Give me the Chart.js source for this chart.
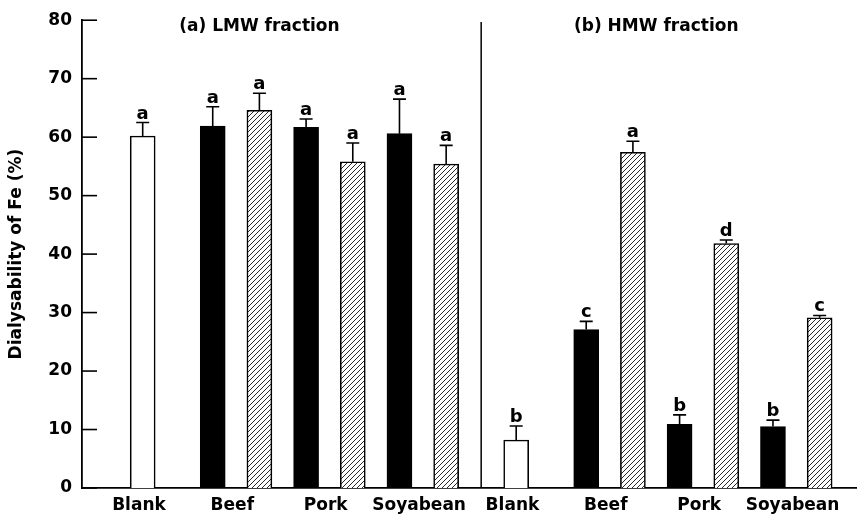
<!DOCTYPE html>
<html>
<head>
<meta charset="utf-8">
<script src="https://cdn.jsdelivr.net/npm/chart.js@4.4.1/dist/chart.umd.min.js"></script>
<style>
  html, body { margin: 0; padding: 0; background: #fff; }
  #wrap { width: 857px; height: 522px; }
</style>
</head>
<body>
<div id="wrap"><canvas id="c" width="857" height="522"></canvas></div>
<script>
// ---- data ----
const fractionTitles = ['(a) LMW fraction', '(b) HMW fraction'];
const foods = ['Blank', 'Beef', 'Pork', 'Soyabean'];
// bar order within each fraction: Blank, Beef(black, hatched), Pork(black, hatched), Soyabean(black, hatched)
const barKinds = ['blank', 'black', 'hatched', 'black', 'hatched', 'black', 'hatched'];
const lmwValues = [60.2, 61.9, 64.6, 61.7, 55.8, 60.6, 55.4];
const lmwErrors = [2.3, 3.3, 2.9, 1.4, 3.2, 5.9, 3.2];
const lmwLetters = ['a', 'a', 'a', 'a', 'a', 'a', 'a'];
const hmwValues = [8.2, 27.1, 57.4, 10.9, 41.8, 10.5, 29.1];
const hmwErrors = [2.4, 1.4, 1.9, 1.6, 0.6, 1.1, 0.4];
const hmwLetters = ['b', 'c', 'a', 'b', 'd', 'b', 'c'];
const yTicks = [0, 10, 20, 30, 40, 50, 60, 70, 80];
const yTitle = 'Dialysability of Fe (%)';

// ---- layout on a slot axis (structure, not data) ----
const slotInFraction = [0, 1.5, 2.5, 3.5, 4.5, 5.5, 6.5];
const foodSlot = [0, 2, 4, 6];
const fractionOffset = [0, 8];
const titleSlot = [2.5, 11.0];

const FONT = "'DejaVu Sans', sans-serif";

// hatch pattern
function makeHatch() {
  const s = 5;
  const c = document.createElement('canvas');
  c.width = s; c.height = s;
  const g = c.getContext('2d');
  g.fillStyle = '#fff';
  g.fillRect(0, 0, s, s);
  g.strokeStyle = '#111';
  g.lineWidth = 0.9;
  g.beginPath();
  g.moveTo(-1, s + 1); g.lineTo(s + 1, -1);
  g.moveTo(-1, 1); g.lineTo(1, -1);
  g.moveTo(s - 1, s + 1); g.lineTo(s + 1, s - 1);
  g.stroke();
  return g.createPattern(c, 'repeat');
}
const hatch = makeHatch();

const points = [], colors = [], errs = [], letters = [];
[lmwValues, hmwValues].forEach((vals, f) => {
  const e = f === 0 ? lmwErrors : hmwErrors;
  const l = f === 0 ? lmwLetters : hmwLetters;
  vals.forEach((v, i) => {
    points.push({ x: fractionOffset[f] + slotInFraction[i], y: v });
    colors.push(barKinds[i] === 'black' ? '#000' : barKinds[i] === 'hatched' ? hatch : '#fff');
    errs.push(e[i]);
    letters.push(l[i]);
  });
});

const labelTicks = [];
fractionOffset.forEach(off => foodSlot.forEach((s, i) => labelTicks.push({ value: off + s - 0.08, label: foods[i] })));

const decorations = {
  id: 'decorations',
  afterDatasetsDraw(chart) {
    const ctx = chart.ctx;
    const x = chart.scales.x, y = chart.scales.y;
    const meta = chart.getDatasetMeta(0);
    ctx.save();
    ctx.strokeStyle = '#000';
    ctx.fillStyle = '#000';
    // error bars + letters
    meta.data.forEach((bar, i) => {
      const px = bar.x;
      const top = y.getPixelForValue(points[i].y);
      const capY = y.getPixelForValue(points[i].y + errs[i]);
      ctx.lineWidth = 1.6;
      ctx.beginPath();
      ctx.moveTo(px, top);
      ctx.lineTo(px, capY);
      ctx.moveTo(px - 6.5, capY);
      ctx.lineTo(px + 6.5, capY);
      ctx.stroke();
      ctx.font = 'bold 18px ' + FONT;
      ctx.textAlign = 'center';
      ctx.textBaseline = 'alphabetic';
      ctx.fillText(letters[i], px, capY - 4);
    });
    // inward y ticks
    ctx.lineWidth = 1.6;
    yTicks.forEach(t => {
      const py = y.getPixelForValue(t);
      ctx.beginPath();
      ctx.moveTo(x.left, py);
      ctx.lineTo(x.left + 15, py);
      ctx.stroke();
    });
    // divider between fractions
    const dx = x.getPixelForValue((fractionOffset[0] + slotInFraction[6] + fractionOffset[1]) / 2);
    ctx.lineWidth = 1.5;
    ctx.beginPath();
    ctx.moveTo(dx, y.getPixelForValue(79.7));
    ctx.lineTo(dx, y.bottom);
    ctx.stroke();
    // fraction titles
    ctx.font = 'bold 17px ' + FONT;
    ctx.textAlign = 'center';
    ctx.textBaseline = 'alphabetic';
    fractionTitles.forEach((t, f) => {
      ctx.fillText(t, x.getPixelForValue(titleSlot[f]), 30.5);
    });
    ctx.restore();
  }
};

new Chart(document.getElementById('c'), {
  type: 'bar',
  data: {
    datasets: [{
      data: points,
      backgroundColor: colors,
      borderColor: '#000',
      borderWidth: 1.6,
      borderSkipped: 'bottom',
      barThickness: 25
    }]
  },
  options: {
    responsive: false,
    animation: false,
    devicePixelRatio: 1,
    layout: { padding: { top: 14, right: 0, left: 0, bottom: 0 } },
    plugins: { legend: { display: false }, tooltip: { enabled: false }, title: { display: false } },
    scales: {
      x: {
        type: 'linear',
        offset: false,
        min: -1.3,
        max: 15.3,
        grid: { display: false, drawTicks: false, offset: false },
        border: { display: true, color: '#000', width: 1.8 },
        afterBuildTicks(scale) { scale.ticks = labelTicks.map(t => ({ value: t.value })); },
        afterFit(scale) { scale.height = 34; },
        ticks: {
          autoSkip: false,
          maxRotation: 0,
          padding: 7,
          color: '#000',
          font: { family: FONT, size: 17, weight: 'bold' },
          callback(v) {
            const t = labelTicks.find(k => Math.abs(k.value - v) < 1e-6);
            return t ? t.label : '';
          }
        }
      },
      y: {
        min: 0,
        max: 80,
        grid: { display: false, drawTicks: false },
        border: { display: true, color: '#000', width: 1.8 },
        afterBuildTicks(scale) { scale.ticks = yTicks.map(v => ({ value: v })); },
        afterFit(scale) { scale.width = 82; },
        ticks: {
          padding: 10,
          color: '#000',
          font: { family: FONT, size: 17, weight: 'bold' }
        },
        title: {
          display: true,
          text: yTitle,
          color: '#000',
          font: { family: FONT, size: 17, weight: 'bold' },
          padding: { top: 6, bottom: 0 }
        }
      }
    }
  },
  plugins: [decorations]
});
</script>
</body>
</html>
